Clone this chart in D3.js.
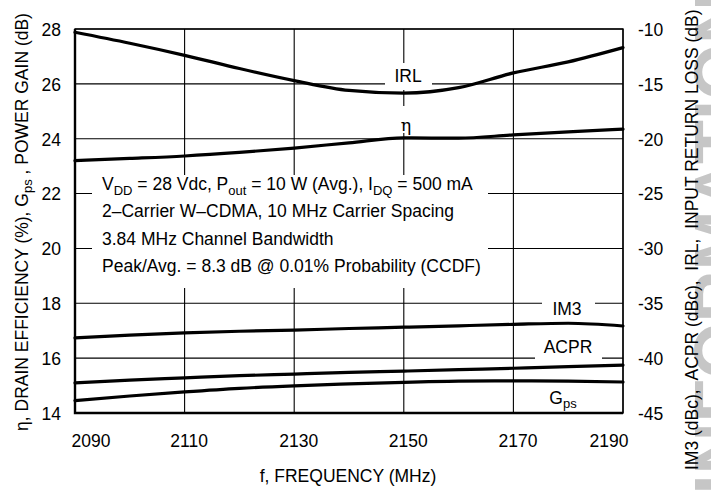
<!doctype html>
<html lang="en">

<head>
    <meta charset="utf-8" />
    <title>Gain, efficiency, IRL, IM3, ACPR vs frequency</title>
    <script src="https://d3js.org/d3.v7.min.js"></script>
    <style>
        body {
            margin: 0;
            background: #fff;
        }

        svg text {
            font-family: "Liberation Sans", Arial, sans-serif;
            fill: #000;
        }
    </style>
</head>

<body>
    <div id="chart"></div>
    <script>
        // values
        const freq = [2090, 2100, 2110, 2120, 2130, 2140, 2150, 2160, 2170, 2180, 2190]
        // left axis (η %, Gps dB)
        const eta = [23.2, 23.28, 23.37, 23.5, 23.66, 23.85, 24.03, 24.02, 24.14, 24.25, 24.35]
        const gps = [14.45, 14.62, 14.77, 14.9, 14.99, 15.06, 15.12, 15.16, 15.17, 15.16, 15.13]
        // right axis (dB / dBc)
        const irl = [-10.3, -11.3, -12.4, -13.6, -14.7, -15.6, -15.85, -15.35, -14.0, -13.0, -11.7]
        const im3 = [-38.15, -37.9, -37.7, -37.55, -37.44, -37.3, -37.18, -37.05, -36.92, -36.82, -37.07]
        const acpr = [-42.25, -42.0, -41.8, -41.6, -41.45, -41.3, -41.18, -41.05, -40.92, -40.78, -40.63]

        const xTicks = [2090, 2110, 2130, 2150, 2170, 2190]
        const leftTicks = [14, 16, 18, 20, 22, 24, 26, 28]
        const rightTicks = [-45, -40, -35, -30, -25, -20, -15, -10]

        const annotation = [
            [["V"], ["DD", "sub"], [" = 28 Vdc, P"], ["out", "sub"], [" = 10 W (Avg.), I"], ["DQ", "sub"], [" = 500 mA"]],
            [["2\u2013Carrier W\u2013CDMA, 10 MHz Carrier Spacing"]],
            [["3.84 MHz Channel Bandwidth"]],
            [["Peak/Avg. = 8.3 dB @ 0.01% Probability (CCDF)"]]
        ]

        const W = 711, H = 498
        const m = { left: 75, right: 623, top: 29, bottom: 413 }
        const fs = 17.5

        const svg = d3.select("#chart").append("svg")
            .attr("width", W).attr("height", H)

        const x = d3.scaleLinear().domain([2090, 2190]).range([m.left, m.right])
        const yL = d3.scaleLinear().domain([14, 28]).range([m.bottom, m.top])
        const yR = d3.scaleLinear().domain([-45, -10]).range([m.bottom, m.top])

        // watermark, mostly off the page
        svg.append("text")
            .attr("transform", "translate(745, -8) rotate(-90)")
            .attr("text-anchor", "end")
            .style("font-size", "72px")
            .style("font-weight", "bold")
            .style("fill", "#c6c6c6")
            .text("ARCHIVE INFORMATION")

        // grid
        const grid = svg.append("g").attr("stroke", "#000").attr("stroke-width", 1.1)
        grid.selectAll(".gx").data(xTicks).join("line")
            .attr("x1", d => x(d)).attr("x2", d => x(d))
            .attr("y1", m.top).attr("y2", m.bottom)
        grid.selectAll(".gy").data(leftTicks).join("line")
            .attr("x1", m.left).attr("x2", m.right)
            .attr("y1", d => yL(d)).attr("y2", d => yL(d))

        // white boxes behind the labels, they cut the grid
        const boxes = [
            [92, 175, 488, 288],
            [385, 63, 432, 90],
            [395, 106, 417, 133],
            [542, 292, 595, 318],
            [535, 336, 602, 362],
            [545, 386, 585, 410]
        ]
        svg.append("g").selectAll("rect").data(boxes).join("rect")
            .attr("x", d => d[0]).attr("y", d => d[1])
            .attr("width", d => d[2] - d[0]).attr("height", d => d[3] - d[1])
            .attr("fill", "#fff")

        // curves
        const lineL = d3.line().x((d, i) => x(freq[i])).y(d => yL(d)).curve(d3.curveMonotoneX)
        const lineR = d3.line().x((d, i) => x(freq[i])).y(d => yR(d)).curve(d3.curveMonotoneX)
        const curves = svg.append("g").attr("fill", "none").attr("stroke", "#000")
            .attr("stroke-width", 3.2).attr("stroke-linecap", "round")
        curves.append("path").attr("d", lineR(irl))
        curves.append("path").attr("d", lineL(eta))
        curves.append("path").attr("d", lineR(im3))
        curves.append("path").attr("d", lineR(acpr))
        curves.append("path").attr("d", lineL(gps))

        // frame
        svg.append("rect")
            .attr("x", m.left).attr("y", m.top)
            .attr("width", m.right - m.left).attr("height", m.bottom - m.top)
            .attr("fill", "none").attr("stroke", "#000").attr("stroke-width", 1.4)
        svg.append("path")
            .attr("d", `M${m.left},${m.top}V${m.bottom}H${m.right}`)
            .attr("fill", "none").attr("stroke", "#000").attr("stroke-width", 2.4)

        // axes, only the labels are kept
        const axX = svg.append("g")
            .attr("transform", `translate(0,${m.bottom})`)
            .call(d3.axisBottom(x).tickValues(xTicks).tickSize(0).tickPadding(0).tickFormat(d3.format("d")))
        axX.select(".domain").remove()
        axX.selectAll("text")
            .attr("y", 34).attr("dy", 0)
            .attr("dx", (d, i) => i === 0 ? -4 : (i === xTicks.length - 1 ? 5 : 4))
            .attr("text-anchor", (d, i) => i === 0 ? "start" : (i === xTicks.length - 1 ? "end" : "middle"))
            .style("font-size", fs + "px")

        const axL = svg.append("g")
            .attr("transform", `translate(${m.left},0)`)
            .call(d3.axisLeft(yL).tickValues(leftTicks).tickSize(0).tickPadding(14))
        axL.select(".domain").remove()
        axL.selectAll("text").attr("dy", "0.36em").style("font-size", fs + "px")

        const axR = svg.append("g")
            .attr("transform", `translate(${m.right},0)`)
            .call(d3.axisRight(yR).tickValues(rightTicks).tickSize(0).tickPadding(15)
                .tickFormat(d => "-" + Math.abs(d)))
        axR.select(".domain").remove()
        axR.selectAll("text").attr("dy", "0.36em").style("font-size", fs + "px")

        // titles
        svg.append("text")
            .attr("x", (m.left + m.right) / 2 - 1).attr("y", 482)
            .attr("text-anchor", "middle").style("font-size", fs + "px")
            .text("f, FREQUENCY (MHz)")

        const tl = svg.append("text")
            .attr("transform", "translate(28, 222) rotate(-90)")
            .attr("text-anchor", "middle").style("font-size", fs + "px")
        tl.append("tspan").text("\u03b7, DRAIN EFFICIENCY (%), G")
        tl.append("tspan").attr("dy", 4).style("font-size", "13px").text("ps")
        tl.append("tspan").attr("dy", -4).text(" , POWER GAIN (dB)")

        svg.append("text")
            .attr("transform", "translate(698, 470) rotate(-90)")
            .attr("text-anchor", "start").style("font-size", fs + "px")
            .attr("xml:space", "preserve")
            .text("IM3 (dBc),  ACPR (dBc),  IRL,  INPUT RETURN LOSS (dB)")

        // conditions
        const note = svg.append("g").style("font-size", fs + "px")
        annotation.forEach((row, i) => {
            const t = note.append("text").attr("x", 102).attr("y", 195 + i * 27.3)
                .attr("xml:space", "preserve")
            row.forEach(part => {
                if (part[1] === "sub") {
                    t.append("tspan").attr("dy", 5).style("font-size", "13px").text(part[0])
                } else {
                    t.append("tspan").attr("dy", t.selectAll("tspan").size() ? -5 : 0).text(part[0])
                }
            })
        })

        // curve labels
        const labels = svg.append("g").style("font-size", fs + "px").attr("text-anchor", "middle")
        labels.append("text").attr("x", 408).attr("y", 82).text("IRL")
        labels.append("text").attr("x", 406).attr("y", 131).style("font-family", "'DejaVu Serif', serif").text("\u03b7")
        labels.append("text").attr("x", 567).attr("y", 315).text("IM3")
        labels.append("text").attr("x", 568).attr("y", 353).text("ACPR")
        const g = labels.append("text").attr("x", 563).attr("y", 404)
        g.append("tspan").text("G")
        g.append("tspan").attr("dy", 4).style("font-size", "13px").text("ps")
    </script>
</body>

</html>
